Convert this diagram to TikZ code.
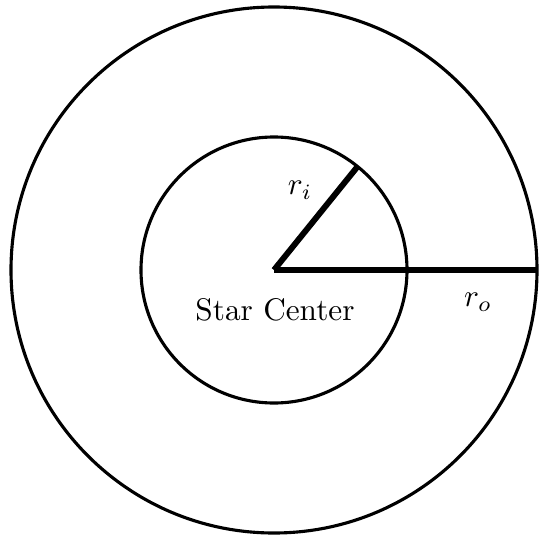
\documentclass[tikz,border=0pt]{standalone}
\begin{document}
\begin{tikzpicture}[x=0.32pt,y=-0.32pt,
  ring/.style={line width=1pt},
  radius line/.style={line width=1.9pt},
  lbl/.style={inner sep=0pt}]
\useasboundingbox (0,0) rectangle (539,539);
\coordinate (c) at (274,270);
\draw[ring] (c) circle[radius=263];
\draw[ring] (c) circle[radius=133];
\coordinate (ie) at (358,166);
\coordinate (oe) at (538,270);
\draw[radius line] (c) -- (ie);
\draw[radius line] (c) -- (oe);
\node[lbl] (ri) at (300,190) {$r_i$};
\node[lbl] (ro) at (478,302) {$r_o$};
\node[lbl] (sc) at (275,310) {Star Center};
\end{tikzpicture}
\end{document}
